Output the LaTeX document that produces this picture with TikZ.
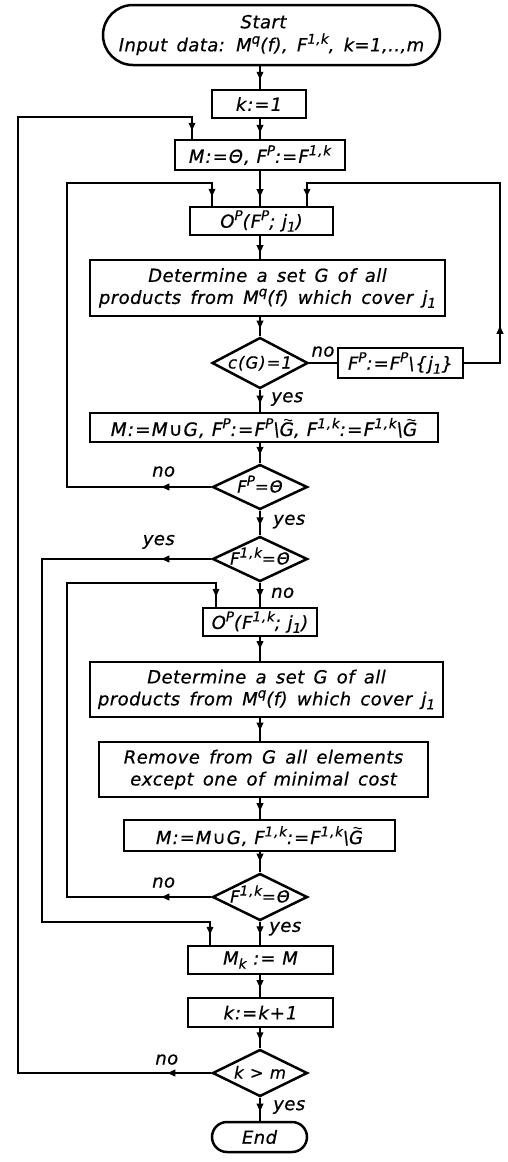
\documentclass[tikz,border=0pt]{standalone}
\usepackage{fontspec}
\setmainfont{DejaVu Sans}
\newfontfamily\prose[LetterSpace=2.5,WordSpace=1.5,FakeBold=0.6]{DejaVu Sans}
\newfontfamily\frm[LetterSpace=6,FakeBold=0.6]{DejaVu Sans}
\usetikzlibrary{shapes.geometric,shapes.misc,decorations.markings,arrows.meta}
\newcommand\su[1]{\raisebox{0.42em}{\fontsize{13.5}{14}\selectfont #1}}
\newcommand\sbt[1]{\raisebox{-0.22em}{\fontsize{13.5}{14}\selectfont #1}}
\newcommand\Gt{\tikz[baseline=0pt,x=1pt,y=1pt,line width=1pt]{\node[font={},anchor=base west,inner sep=0pt,minimum width=0pt,minimum height=0pt,draw=none] (gch) at (0,0) {G};\draw (5,15.8) .. controls (7.5,18.6) and (10.5,13.2) .. (13,16);}}
\begin{document}
\begin{tikzpicture}[x=1pt,y=-1pt,line width=2.5pt,
  every node/.style={inner sep=0pt, align=center, font=\fontsize{18}{22}\selectfont\frm\itshape},
  pr/.style={font=\fontsize{18}{22}\selectfont\prose\itshape},
  box/.style 2 args={draw, rectangle, minimum width=#1, minimum height=#2},
  term/.style 2 args={draw, rounded rectangle, minimum width=#1, minimum height=#2},
  dec/.style 2 args={draw, diamond, aspect=2, minimum width=#1, minimum height=#2, text height=11pt, text depth=0pt, font=\fontsize{16.5}{20}\selectfont\frm\itshape},
  amark/.style={postaction={decorate, decoration={markings, mark=at position #1 with {\arrow{Triangle[length=8pt,width=6.5pt]}}}}},
  lab/.style={font=\fontsize{18}{20}\selectfont\prose\itshape}
]
\useasboundingbox (0,0) rectangle (507,1162);
\coordinate (ax) at (260,0);
\node[term={337pt}{60pt}, pr] (start) at (271.5,35) {Start\hspace*{16pt}\\[1pt]Input data: M\su{q}(f), F\su{1,k}, k=1,..,m};
\node[box={94pt}{28pt}] (k1) at (259,104) {k:=1};
\node[box={170pt}{30pt}] (m0) at (260,155) {M:=Θ, F\su{P}:=F\su{1,k}};
\node[box={143pt}{28pt}] (op1) at (261.5,221) {O\su{P}(F\su{P}; j\sbt{1})};
\node[box={355pt}{56pt}, pr] (det1) at (267.5,288) {Determine a set G of all\\products from M\su{q}(f) which cover j\sbt{1}};
\node[dec={96pt}{51pt}] (d1) at (260,363) {c(G)=1};
\node[box={125pt}{30pt}] (fp) at (400.5,363) {F\su{P}:=F\su{P}\textbackslash\{j\sbt{1}\}};
\node[box={348pt}{29pt}, font=\fontsize{18.5}{22}\selectfont\frm\itshape] (mu1) at (264,427.5) {M:=M∪G, F\su{P}:=F\su{P}\textbackslash\Gt, F\su{1,k}:=F\su{1,k}\textbackslash\Gt};
\node[dec={95pt}{45pt}] (d2) at (260,487) {F\su{P}=Θ};
\node[dec={95pt}{45pt}] (d3) at (260,559) {F\su{1,k}=Θ};
\node[box={114pt}{28pt}] (op2) at (260,622) {O\su{P}(F\su{1,k}; j\sbt{1})};
\node[box={353pt}{55pt}, pr] (det2) at (266.5,689.5) {Determine a set G of all\\products from M\su{q}(f) which cover j\sbt{1}};
\node[box={329pt}{55pt}, pr] (rem) at (263.5,769.5) {Remove from G all elements\\except one of minimal cost};
\node[box={271pt}{31pt}] (mu2) at (259.5,835.5) {M:=M∪G, F\su{1,k}:=F\su{1,k}\textbackslash\Gt};
\node[dec={95pt}{47pt}] (d4) at (260,897) {F\su{1,k}=Θ};
\node[box={145pt}{28pt}] (mk) at (260.5,960) {M\sbt{k} := M};
\node[box={145pt}{29pt}] (kk) at (260.5,1012.5) {k:=k+1};
\node[dec={95pt}{47pt}] (d5) at (260,1073) {k > m};
\node[term={95pt}{30pt}, pr] (stop) at (259.5,1137) {End};
% loop corners
\coordinate (oa) at (18,117); \coordinate (ob) at (192,117);
\coordinate (ia) at (67,183); \coordinate (ib) at (212,183);
\coordinate (ra) at (500,183); \coordinate (rb) at (307,183);
\coordinate (ya) at (42,922); \coordinate (yb) at (210,922);
\coordinate (ja) at (67,583); \coordinate (jb) at (216,583);
% main column
\draw[amark=0.6] (ax |- start.south) -- (ax |- k1.north);
\draw[amark=0.7] (ax |- k1.south) -- (ax |- m0.north);
\draw[amark=0.75] (ax |- m0.south) -- (ax |- op1.north);
\draw[amark=0.75] (ax |- op1.south) -- (ax |- det1.north);
\draw[amark=0.6] (ax |- det1.south) -- (ax |- d1.north);
\draw[amark=0.6] (ax |- d1.south) -- node[lab, right=10pt, pos=0.4] (y1) {yes} (ax |- mu1.north);
\draw[amark=0.6] (ax |- mu1.south) -- (ax |- d2.north);
\draw[amark=0.6] (ax |- d2.south) -- node[lab, right=12pt, pos=0.44] (y2) {yes} (ax |- d3.north);
\draw[amark=0.6] (ax |- d3.south) -- node[lab, right=10pt, pos=0.42] (n3) {no} (ax |- op2.north);
\draw[amark=0.5] (ax |- op2.south) -- (ax |- det2.north);
\draw[amark=0.55] (ax |- det2.south) -- (ax |- rem.north);
\draw[amark=0.6] (ax |- rem.south) -- (ax |- mu2.north);
\draw[amark=0.5] (ax |- mu2.south) -- (ax |- d4.north);
\draw[amark=0.55] (ax |- d4.south) -- node[lab, right=8pt, pos=0.3] (y4) {yes} (ax |- mk.north);
\draw[amark=0.6] (ax |- mk.south) -- (ax |- kk.north);
\draw[amark=0.6] (ax |- kk.south) -- (ax |- d5.north);
\draw[amark=0.6] (ax |- d5.south) -- node[lab, right=12pt, pos=0.4] (y5) {yes} (ax |- stop.north);
% branches and loops
\draw (d1.east) -- node[lab, above=5pt] (n1) {no} (fp.west);
\draw[amark=73pt, amark=-9pt] (fp.east) -- (fp.east -| ra) -- (ra) -- (rb) -- (rb |- op1.north);
\draw[amark=50pt, amark=-9pt] (d2.west) -- node[lab, above=9pt, pos=0.33] (n2) {no} (d2.west -| ia) -- (ia) -- (ib) -- (ib |- op1.north);
\draw[amark=50pt, amark=-10pt] (d3.west) -- node[lab, above=9pt, pos=0.31] (y3) {yes} (d3.west -| ya) -- (ya) -- (yb) -- (yb |- mk.north);
\draw[amark=50pt, amark=-10pt] (d4.west) -- node[lab, above=8pt, pos=0.33] (n4) {no} (d4.west -| ja) -- (ja) -- (jb) -- (jb |- op2.north);
\draw[amark=44pt, amark=-8pt] (d5.west) -- node[lab, above=7pt, pos=0.23] (n5) {no} (d5.west -| oa) -- (oa) -- (ob) -- (ob |- m0.north);
\end{tikzpicture}
\end{document}
